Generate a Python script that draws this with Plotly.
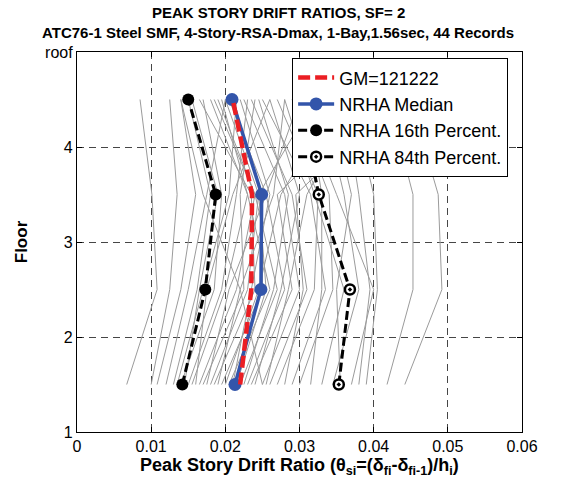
import plotly.graph_objects as go

floors = [1.5, 2.5, 3.5, 4.5]

records = [
    [0.0067, 0.0108, 0.0101, 0.0085],
    [0.0100, 0.0125, 0.0135, 0.0125],
    [0.0108, 0.0140, 0.0160, 0.0140],
    [0.0120, 0.0150, 0.0175, 0.0200],
    [0.0130, 0.0162, 0.0180, 0.0150],
    [0.0135, 0.0170, 0.0205, 0.0215],
    [0.0140, 0.0185, 0.0195, 0.0170],
    [0.0145, 0.0165, 0.0190, 0.0155],
    [0.0150, 0.0195, 0.0215, 0.0230],
    [0.0155, 0.0200, 0.0230, 0.0180],
    [0.0160, 0.0175, 0.0210, 0.0260],
    [0.0165, 0.0215, 0.0240, 0.0190],
    [0.0170, 0.0225, 0.0220, 0.0240],
    [0.0175, 0.0205, 0.0255, 0.0300],
    [0.0180, 0.0230, 0.0245, 0.0200],
    [0.0185, 0.0240, 0.0235, 0.0165],
    [0.0190, 0.0220, 0.0265, 0.0280],
    [0.0195, 0.0250, 0.0250, 0.0210],
    [0.0200, 0.0245, 0.0275, 0.0350],
    [0.0205, 0.0260, 0.0230, 0.0195],
    [0.0210, 0.0235, 0.0260, 0.0220],
    [0.0215, 0.0255, 0.0245, 0.0320],
    [0.0220, 0.0270, 0.0240, 0.0185],
    [0.0225, 0.0265, 0.0285, 0.0245],
    [0.0230, 0.0280, 0.0255, 0.0205],
    [0.0235, 0.0290, 0.0270, 0.0400],
    [0.0240, 0.0275, 0.0300, 0.0260],
    [0.0250, 0.0300, 0.0280, 0.0225],
    [0.0255, 0.0285, 0.0310, 0.0380],
    [0.0260, 0.0310, 0.0290, 0.0235],
    [0.0270, 0.0320, 0.0325, 0.0270],
    [0.0280, 0.0305, 0.0295, 0.0430],
    [0.0290, 0.0335, 0.0315, 0.0250],
    [0.0300, 0.0345, 0.0340, 0.0290],
    [0.0315, 0.0330, 0.0330, 0.0310],
    [0.0330, 0.0360, 0.0320, 0.0280],
    [0.0345, 0.0380, 0.0360, 0.0330],
    [0.0355, 0.0350, 0.0370, 0.0340],
    [0.0370, 0.0400, 0.0350, 0.0300],
    [0.0380, 0.0395, 0.0380, 0.0360],
    [0.0390, 0.0405, 0.0400, 0.0370],
    [0.0418, 0.0453, 0.0453, 0.0420],
    [0.0442, 0.0492, 0.0487, 0.0450],
    [0.0250, 0.0220, 0.0170, 0.0140],
]

gm = [0.0220, 0.0235, 0.0236, 0.0210]
median = [0.0213, 0.0248, 0.0249, 0.0209]
p16 = [0.0142, 0.0173, 0.0187, 0.0150]
p84 = [0.0353, 0.0368, 0.0326, 0.0300]

x_ticks = [0, 0.01, 0.02, 0.03, 0.04, 0.05, 0.06]
x_labels = ["0", "0.01", "0.02", "0.03", "0.04", "0.05", "0.06"]
y_ticks = [1, 2, 3, 4, 5]
y_labels = ["1", "2", "3", "4", "roof"]

title_lines = ["PEAK STORY DRIFT RATIOS, SF= 2",
               "ATC76-1 Steel SMF, 4-Story-RSA-Dmax, 1-Bay,1.56sec, 44 Records"]
x_title = "Peak Story Drift Ratio (θ<sub>si</sub>=(δ<sub>fi</sub>-δ<sub>fi-1</sub>)/h<sub>i</sub>)"

FONT = "Liberation Sans, Arial, sans-serif"

fig = go.Figure()
for r in records:
    fig.add_trace(go.Scatter(x=r, y=floors, mode="lines",
                             line=dict(color="rgb(155,155,155)", width=1),
                             showlegend=False, hoverinfo="skip"))

fig.add_trace(go.Scatter(x=p16, y=floors, mode="lines+markers", name="NRHA 16th Percent.",
                         line=dict(color="black", width=3, dash="9px,4px"),
                         marker=dict(color="black", size=12, symbol="circle"),
                         legendrank=3))
fig.add_trace(go.Scatter(x=p84, y=floors, mode="lines+markers", name="NRHA 84th Percent.",
                         line=dict(color="black", width=3, dash="9px,4px"),
                         marker=dict(color="white", size=10, symbol="circle-dot",
                                     line=dict(color="black", width=2.5)),
                         legendrank=4))
fig.add_trace(go.Scatter(x=median, y=floors, mode="lines+markers", name="NRHA Median",
                         line=dict(color="rgb(51,85,170)", width=3.5),
                         marker=dict(color="rgb(51,85,170)", size=13),
                         legendrank=2))
fig.add_trace(go.Scatter(x=gm, y=floors, mode="lines", name="GM=121222",
                         line=dict(color="rgb(235,30,35)", width=4.5, dash="12px,5px"),
                         legendrank=1))

axis_common = dict(showline=True, linecolor="black", linewidth=1.2, mirror="ticks",
                   ticks="inside", ticklen=5, tickcolor="black",
                   showgrid=True, gridcolor="rgb(70,70,70)", gridwidth=1, griddash="7px,5px",
                   zeroline=False, tickfont=dict(family=FONT, size=16, color="black"))

title_x = (278 - 77) / 445.0
annotations = [
    dict(text="<b>" + title_lines[0] + "</b>", x=title_x, xref="paper", y=1.105, yref="paper",
         showarrow=False, xanchor="center", yanchor="middle",
         font=dict(family=FONT, size=15, color="black")),
    dict(text="<b>" + title_lines[1] + "</b>", x=title_x, xref="paper", y=1.0526, yref="paper",
         showarrow=False, xanchor="center", yanchor="middle",
         font=dict(family=FONT, size=15, color="black")),
    dict(text="<b>" + x_title + "</b>", x=(299 - 77) / 445.0, xref="paper",
         y=-(466 - 432) / 380.0, yref="paper",
         showarrow=False, xanchor="center", yanchor="middle",
         font=dict(family=FONT, size=18, color="black")),
]

fig.update_layout(
    width=564, height=487,
    margin=dict(l=77, r=42, t=52, b=55),
    paper_bgcolor="white", plot_bgcolor="white",
    annotations=annotations,
    xaxis=dict(range=[0, 0.06], tickvals=x_ticks, ticktext=x_labels, **axis_common),
    yaxis=dict(range=[1, 5], tickvals=y_ticks, ticktext=y_labels,
               title=dict(text="<b>Floor</b>", font=dict(family=FONT, size=17, color="black"), standoff=13),
               **axis_common),
    legend=dict(x=0.483, y=0.984, xanchor="left", yanchor="top",
                bgcolor="white", bordercolor="black", borderwidth=1.2,
                font=dict(family=FONT, size=18, color="black"),
                tracegroupgap=0, itemwidth=36),
    showlegend=True,
)

fig.write_html("out.html")
